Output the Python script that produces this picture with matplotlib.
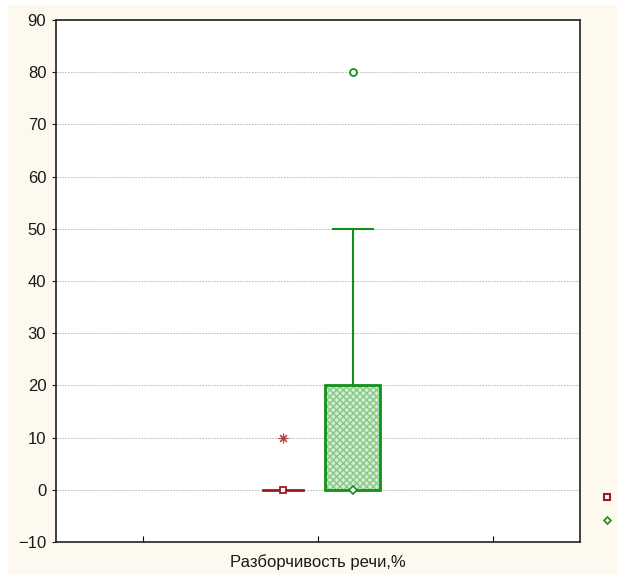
import matplotlib.pyplot as plt
from matplotlib.lines import Line2D
from matplotlib.patches import Rectangle

RED = "#9E1B1B"
GREEN = "#12901A"
CREAM = "#FEF9EE"

category = "Разборчивость речи,%"
positions = [2.6, 3.4]
colors = [RED, GREEN]
medians = [0, 0]
q1 = [0, 0]
q3 = [0, 20]
whisk_lo = [0, 0]
whisk_hi = [0, 50]
outliers = [[10], [80]]
yticks = list(range(-10, 91, 10))

plt.rcParams["font.family"] = ["Liberation Sans", "DejaVu Sans"]

fig = plt.figure(figsize=(6.17, 5.74), dpi=100, facecolor="white")
fig.patches.append(Rectangle((8 / 617, 0), 609 / 617, 569 / 574, transform=fig.transFigure,
                             facecolor=CREAM, edgecolor="none", zorder=-10))
ax = fig.add_axes([56 / 617, 32 / 574, 524 / 617, 522 / 574])
ax.set_facecolor("white")

# red group: degenerate box drawn as a line
ax.plot([positions[0] - 0.23, positions[0] + 0.23], [q1[0], q3[0]], color=RED, lw=2, zorder=3)
ax.plot(positions[0], medians[0], marker="s", ms=5, mfc="white", mec=RED, mew=1.3, zorder=4)
ax.plot(positions[0], outliers[0][0], marker=(8, 2, 0), ms=7, color="#b04040", mew=0.8,
        ls="none", zorder=4)

# green group
x = positions[1]
w = 0.63
ax.add_patch(Rectangle((x - w / 2, q1[1]), w, q3[1] - q1[1], facecolor="#d4ecd4",
                       edgecolor="#86c986", hatch="xxxxx", lw=0, zorder=2))
ax.add_patch(Rectangle((x - w / 2, q1[1]), w, q3[1] - q1[1], facecolor="none",
                       edgecolor=GREEN, lw=2, zorder=3))
ax.plot([x, x], [q3[1], whisk_hi[1]], color=GREEN, lw=1.5, zorder=3)
ax.plot([x - 0.23, x + 0.23], [whisk_hi[1], whisk_hi[1]], color=GREEN, lw=1.5, zorder=3)
ax.plot(x, medians[1], marker="D", ms=4, mfc="white", mec=GREEN, mew=1.2, zorder=4)
ax.plot(x, outliers[1][0], marker="o", ms=5, mfc="white", mec=GREEN, mew=1.3, ls="none", zorder=4)

ax.set_xlim(0, 6)
ax.set_ylim(-10, 90)
ax.set_yticks(yticks)
ax.set_xticks([1, 3, 5])
ax.set_xticklabels([])
ax.text(3, -12.3, category, ha="center", va="top", fontsize=12, color="#1a1a1a")
ax.tick_params(axis="y", direction="out", length=3, labelsize=12, colors="#1a1a1a", pad=4)
ax.tick_params(axis="x", direction="in", length=4)
ax.grid(axis="y", color="#b0b0b0", linestyle=(0, (2, 1.5)), linewidth=0.6)
ax.set_axisbelow(True)
for side in ["left", "bottom", "top", "right"]:
    ax.spines[side].set_linewidth(1.2)
    ax.spines[side].set_color("#222222")

# legend markers without text
fig.add_artist(Line2D([607 / 617], [1 - 497 / 574], marker="s", ms=5, mfc="white", mec=RED,
                      mew=1.5, transform=fig.transFigure))
fig.add_artist(Line2D([607 / 617], [1 - 520 / 574], marker="D", ms=3.5, mfc="white", mec=GREEN,
                      mew=1.2, transform=fig.transFigure))

fig.savefig("out.png", dpi=100)
